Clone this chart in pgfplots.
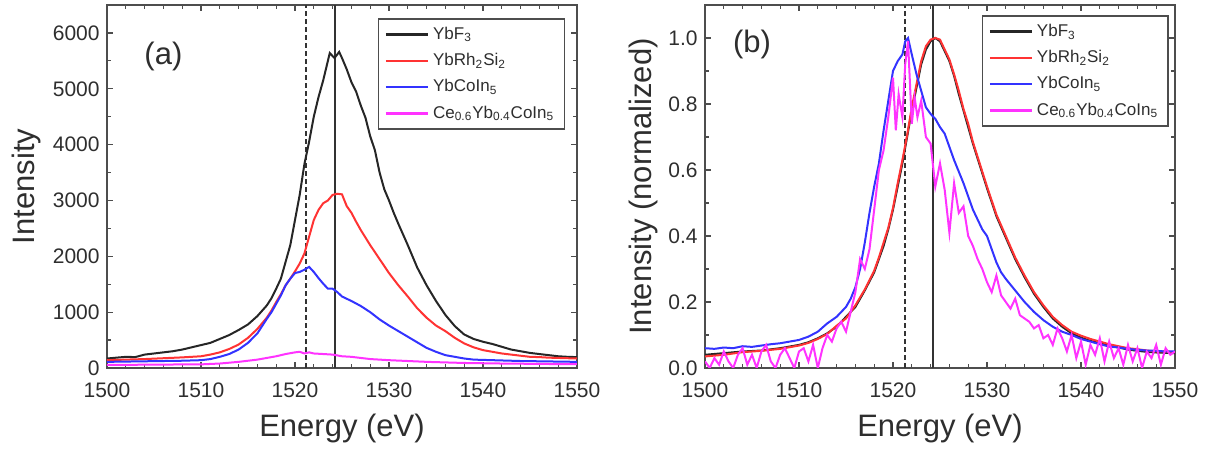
\documentclass[border=0pt]{standalone}
\usepackage{pgfplots}
\pgfplotsset{compat=1.18}
\usepackage{fontspec}
\setmainfont{Liberation Sans}

\definecolor{cblack}{HTML}{262626}
\definecolor{cred}{HTML}{FF3333}
\definecolor{cblue}{HTML}{3333FF}
\definecolor{cmag}{HTML}{FF33FF}
\definecolor{frame}{HTML}{4D4D4D}
\definecolor{vline}{HTML}{333333}
\definecolor{txt}{HTML}{2E2E2E}

\pgfplotsset{
 legend image code/.code={\draw[#1] (0pt,0pt) -- (21pt,0pt);},
 myax/.style={
  scale only axis, width=235pt, height=181.5pt,
  xmin=1500, xmax=1550, xtick={1500,1510,1520,1530,1540,1550}, minor x tick num=4,
  tick align=inside, major tick length=3pt, minor tick length=1.8pt,
  axis line style={frame, line width=0.75pt},
  every tick/.style={frame, line width=0.6pt},
  /pgf/number format/assume math mode=true,
  /pgf/number format/set thousands separator={},
  tick label style={font=\fontsize{10.5}{12}\selectfont, text=txt, inner sep=0pt},
  xticklabel style={yshift=-7pt},
  yticklabel style={xshift=-3.5pt},
  label style={font=\fontsize{15.5}{18}\selectfont, text=txt},
  xlabel style={at={(axis description cs:0.5,-0.19)}, anchor=base},
  legend cell align=left,
  legend style={draw=frame, line width=0.75pt, font=\fontsize{8.5}{10}\selectfont, text=txt,
    row sep=1.5pt, inner xsep=3pt, inner ysep=2pt, anchor=north east},
  every axis plot/.append style={line width=1pt, mark=none},
 }
}
\newcommand{\legline}[1]{\addlegendimage{#1, line width=1.2pt}}

\begin{document}
\begin{tikzpicture}
\path[use as bounding box] (-53.5pt,-40.5pt) rectangle (554.5pt,184pt);

% ---------------- panel (a)
\begin{axis}[myax, at={(0pt,0pt)},
  ymin=0, ymax=6500, ytick={0,1000,2000,3000,4000,5000,6000}, minor y tick num=1,
  xlabel={Energy (eV)}, ylabel={Intensity},
  ylabel style={at={(axis description cs:-0.155,0.5)}, anchor=base},
  legend style={at={(axis description cs:0.9745,0.964)}}]
\legline{cblack}
\addlegendentry{YbF\textsubscript{3}}
\legline{cred}
\addlegendentry{YbRh\textsubscript{2}Si\textsubscript{2}}
\legline{cblue}
\addlegendentry{YbCoIn\textsubscript{5}}
\legline{cmag}
\addlegendentry{Ce\textsubscript{0.6}Yb\textsubscript{0.4}CoIn\textsubscript{5}}
\addplot[vline, line width=1pt, forget plot] coordinates {(1524.3,0) (1524.3,6500)};
\addplot[vline, line width=1pt, dash pattern=on 2.5pt off 1.5pt, forget plot] coordinates {(1521.2,0) (1521.2,6500)};
\addplot[cblack, forget plot] coordinates {
(1500,170)(1501,185)(1502,200)(1503,195)(1504,240)(1505,260)(1506,280)(1507,300)(1508,330)(1509,370)
(1510,410)(1511,450)(1512,520)(1513,590)(1514,680)(1515,780)(1516,930)(1517,1120)(1517.5,1250)(1518,1420)
(1518.5,1600)(1519,1900)(1519.5,2200)(1520,2650)(1520.5,3100)(1521,3650)(1521.5,4050)(1522,4500)(1522.5,4850)
(1523,5150)(1523.5,5500)(1523.7,5640)(1524.2,5550)(1524.7,5660)(1525,5550)(1525.5,5350)(1526,5120)(1526.5,4950)
(1527,4700)(1527.5,4480)(1528,4150)(1528.5,3900)(1529,3500)(1529.5,3200)(1530,3000)(1530.5,2780)(1531,2580)
(1532,2200)(1533,1800)(1534,1480)(1535,1200)(1536,950)(1537,750)(1538,600)(1539,520)(1540,470)(1541,430)
(1542,380)(1543,330)(1544,300)(1545,270)(1546,250)(1547,230)(1548,210)(1549,200)(1550,195)};
\addplot[cred, forget plot] coordinates {
(1500,140)(1502,150)(1504,160)(1506,175)(1508,190)(1510,210)(1511,240)(1512,280)(1513,340)(1514,420)
(1515,540)(1516,700)(1517,900)(1517.5,1030)(1518,1180)(1518.5,1320)(1519,1480)(1519.5,1600)(1520,1730)
(1520.5,1870)(1521,2050)(1521.5,2350)(1522,2650)(1522.5,2830)(1523,2950)(1523.5,3000)(1524,3100)(1524.5,3120)
(1525,3110)(1525.5,2900)(1526,2780)(1526.5,2620)(1527,2470)(1528,2200)(1529,1950)(1530,1700)(1531,1480)
(1532,1280)(1533,1070)(1534,900)(1535,760)(1536,660)(1537,540)(1538,440)(1539,370)(1540,320)(1541,290)
(1542,260)(1543,240)(1544,220)(1545,200)(1546,195)(1547,185)(1548,180)(1549,175)(1550,170)};
\addplot[cblue, forget plot] coordinates {
(1500,110)(1502,115)(1504,120)(1506,125)(1508,130)(1510,140)(1511,160)(1512,200)(1513,250)(1514,330)
(1515,450)(1516,620)(1517,880)(1517.5,1000)(1518,1150)(1518.5,1300)(1519,1480)(1519.5,1600)(1520,1700)
(1520.5,1720)(1521,1760)(1521.5,1810)(1522,1720)(1522.5,1610)(1523,1510)(1523.5,1420)(1524,1420)(1524.5,1360)
(1525,1280)(1526,1200)(1527,1110)(1528,1000)(1529,870)(1530,760)(1531,660)(1532,560)(1533,460)(1534,360)
(1535,290)(1536,230)(1537,200)(1538,170)(1539,150)(1540,145)(1542,135)(1544,125)(1546,120)(1548,115)(1550,110)};
\addplot[cmag, forget plot] coordinates {
(1500,55)(1502,55)(1504,60)(1506,60)(1508,65)(1510,65)(1512,80)(1514,110)(1516,150)(1517,180)(1518,210)
(1519,250)(1520,280)(1520.5,290)(1521,260)(1521.5,280)(1522,260)(1523,250)(1524,240)(1525,210)(1526,200)
(1528,160)(1530,140)(1532,125)(1534,110)(1536,100)(1538,90)(1540,85)(1542,80)(1545,75)(1548,70)(1550,68)};
\node[font=\fontsize{15.5}{18}\selectfont, text=txt] at (axis cs:1506,5573) {(a)};
\end{axis}

% ---------------- panel (b)
\begin{axis}[myax, at={(299pt,0pt)},
  ymin=0, ymax=1.1, ytick={0,0.2,0.4,0.6,0.8,1.0}, minor y tick num=1,
  yticklabel style={/pgf/number format/fixed, /pgf/number format/fixed zerofill, /pgf/number format/precision=1},
  xlabel={Energy (eV)}, ylabel={Intensity (normalized)},
  ylabel style={at={(axis description cs:-0.113,0.5)}, anchor=base},
  legend style={at={(axis description cs:0.987,0.972)}}]
\legline{cblack}
\addlegendentry{YbF\textsubscript{3}}
\legline{cred}
\addlegendentry{YbRh\textsubscript{2}Si\textsubscript{2}}
\legline{cblue}
\addlegendentry{YbCoIn\textsubscript{5}}
\legline{cmag}
\addlegendentry{Ce\textsubscript{0.6}Yb\textsubscript{0.4}CoIn\textsubscript{5}}
\addplot[vline, line width=1pt, forget plot] coordinates {(1524.25,0) (1524.25,1.1)};
\addplot[vline, line width=1pt, dash pattern=on 2.5pt off 1.5pt, forget plot] coordinates {(1521.3,0) (1521.3,1.1)};
\addplot[cblack, forget plot] coordinates {
(1500,0.040)(1502,0.045)(1504,0.050)(1506,0.053)(1508,0.060)(1510,0.070)(1511,0.078)(1512,0.090)(1513,0.105)
(1514,0.125)(1515,0.155)(1516,0.185)(1517,0.235)(1518,0.29)(1518.5,0.33)(1519,0.37)(1519.5,0.42)(1520,0.48)
(1520.5,0.55)(1521,0.62)(1521.5,0.70)(1522,0.78)(1522.5,0.85)(1523,0.92)(1523.5,0.965)(1524,0.99)(1524.5,1.0)
(1525,0.99)(1525.5,0.96)(1526,0.93)(1526.5,0.885)(1527,0.83)(1527.5,0.78)(1528,0.73)(1528.5,0.68)(1529,0.635)
(1529.5,0.59)(1530,0.545)(1531,0.46)(1532,0.395)(1533,0.33)(1534,0.275)(1535,0.225)(1536,0.185)(1537,0.15)
(1538,0.125)(1539,0.105)(1540,0.092)(1541,0.082)(1542,0.075)(1543,0.068)(1544,0.062)(1545,0.056)(1546,0.052)
(1547,0.049)(1548,0.047)(1549,0.046)(1550,0.045)};
\addplot[cred, forget plot] coordinates {
(1500,0.035)(1502,0.040)(1504,0.048)(1506,0.052)(1508,0.058)(1510,0.068)(1511,0.076)(1512,0.088)(1513,0.103)
(1514,0.128)(1515,0.150)(1516,0.190)(1517,0.238)(1518,0.295)(1518.5,0.335)(1519,0.38)(1519.5,0.425)(1520,0.485)
(1520.5,0.56)(1521,0.63)(1521.5,0.705)(1522,0.79)(1522.5,0.86)(1523,0.93)(1523.5,0.975)(1524,0.995)(1524.5,1.0)
(1525,0.995)(1525.5,0.965)(1526,0.935)(1526.5,0.89)(1527,0.84)(1527.5,0.785)(1528,0.74)(1528.5,0.685)(1529,0.64)
(1529.5,0.595)(1530,0.55)(1531,0.465)(1532,0.4)(1533,0.335)(1534,0.28)(1535,0.23)(1536,0.19)(1537,0.155)
(1538,0.13)(1539,0.11)(1540,0.098)(1541,0.088)(1542,0.08)(1543,0.072)(1544,0.066)(1545,0.06)(1546,0.057)
(1547,0.053)(1548,0.05)(1549,0.05)(1550,0.048)};
\addplot[cblue, forget plot] coordinates {
(1500,0.060)(1501,0.058)(1502,0.062)(1503,0.060)(1504,0.066)(1505,0.064)(1506,0.068)(1507,0.072)(1508,0.075)
(1509,0.080)(1510,0.085)(1511,0.095)(1512,0.110)(1513,0.135)(1514,0.155)(1515,0.185)(1515.5,0.21)(1516,0.245)
(1516.5,0.30)(1517,0.38)(1517.5,0.47)(1518,0.55)(1518.5,0.62)(1519,0.72)(1519.5,0.81)(1520,0.90)(1520.5,0.93)
(1521,0.95)(1521.3,0.99)(1521.6,1.0)(1522,0.95)(1522.5,0.89)(1523,0.84)(1523.5,0.79)(1524,0.77)(1524.5,0.755)
(1525,0.73)(1525.5,0.71)(1526,0.67)(1526.5,0.63)(1527,0.595)(1527.5,0.56)(1528,0.52)(1528.5,0.48)(1529,0.45)
(1529.5,0.42)(1530,0.40)(1530.5,0.36)(1531,0.32)(1531.5,0.29)(1532,0.27)(1533,0.235)(1534,0.20)(1535,0.17)
(1536,0.145)(1537,0.125)(1538,0.11)(1539,0.10)(1540,0.088)(1541,0.08)(1542,0.072)(1543,0.065)(1544,0.062)
(1545,0.058)(1546,0.055)(1547,0.053)(1548,0.052)(1549,0.05)(1550,0.05)};
\addplot[cmag, forget plot] coordinates {
(1500,0.02)(1500.5,0.00)(1501,0.03)(1501.5,0.01)(1502,0.05)(1502.5,0.02)(1503,0.00)(1503.5,0.04)(1504,0.06)
(1504.5,0.01)(1505,0.04)(1505.5,0.00)(1506,0.05)(1506.5,0.07)(1507,0.02)(1507.5,0.00)(1508,0.04)(1508.5,0.06)
(1509,0.03)(1509.5,0.00)(1510,0.05)(1510.5,0.06)(1511,0.02)(1511.5,0.07)(1512,0.00)(1512.5,0.06)(1513,0.10)
(1513.5,0.08)(1514,0.12)(1514.5,0.14)(1515,0.11)(1515.5,0.17)(1516,0.23)(1516.5,0.33)(1517,0.30)(1517.5,0.36)
(1518,0.48)(1518.5,0.60)(1519,0.66)(1519.5,0.76)(1520,0.88)(1520.3,0.72)(1520.6,0.83)(1521,0.76)(1521.3,0.92)
(1521.6,0.99)(1522,0.74)(1522.3,0.82)(1522.6,0.76)(1523,0.81)(1523.5,0.70)(1524,0.68)(1524.5,0.55)(1525,0.62)
(1525.5,0.54)(1526,0.41)(1526.5,0.56)(1527,0.47)(1527.5,0.49)(1528,0.40)(1528.5,0.37)(1529,0.33)(1529.5,0.30)
(1530,0.26)(1530.5,0.23)(1531,0.28)(1531.5,0.22)(1532,0.20)(1532.5,0.18)(1533,0.21)(1533.5,0.16)(1534,0.15)
(1534.5,0.14)(1535,0.12)(1535.5,0.13)(1536,0.09)(1536.5,0.10)(1537,0.07)(1537.5,0.12)(1538,0.09)(1538.5,0.05)
(1539,0.10)(1539.5,0.03)(1540,0.08)(1540.5,0.01)(1541,0.07)(1541.5,0.04)(1542,0.09)(1542.5,0.02)(1543,0.08)
(1543.5,0.03)(1544,0.06)(1544.5,0.01)(1545,0.07)(1545.5,0.02)(1546,0.06)(1546.5,0.00)(1547,0.05)(1547.5,0.03)
(1548,0.07)(1548.5,0.01)(1549,0.06)(1549.5,0.04)(1550,0.05)};
\node[font=\fontsize{15.5}{18}\selectfont, text=txt] at (axis cs:1505,0.98) {(b)};
\end{axis}
\end{tikzpicture}
\end{document}
